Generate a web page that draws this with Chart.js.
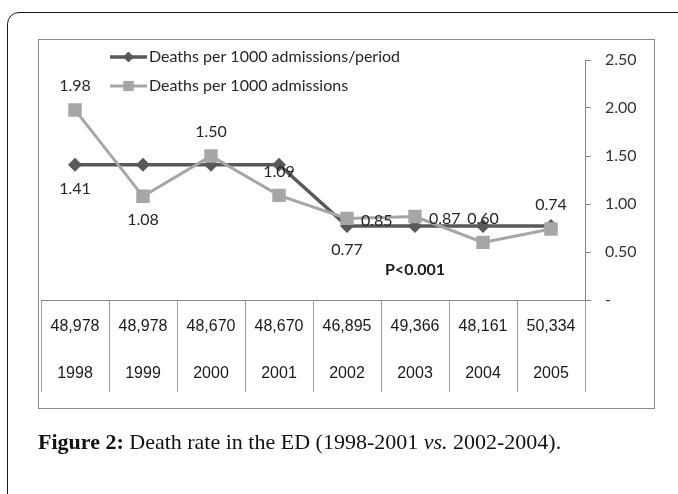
<!DOCTYPE html>
<html><head><meta charset="utf-8">
<script src="https://cdn.jsdelivr.net/npm/chart.js@4.4.1/dist/chart.umd.min.js"></script>
<style>
html,body{margin:0;padding:0;background:#fff;}
#wrap{position:relative;width:678px;height:494px;overflow:hidden;background:#fff;}
#frame{position:absolute;left:7px;top:12px;width:720px;height:600px;border:1.5px solid #1a1a1a;border-radius:12px;box-sizing:border-box;}
#box{position:absolute;left:38px;top:39px;width:617px;height:370px;border:1.5px solid #8c8c8c;box-sizing:border-box;}
#cv{position:absolute;left:0;top:0;}
#cap{position:absolute;left:38px;top:429px;font-family:"Liberation Serif",serif;font-size:22px;color:#111;white-space:nowrap;}
</style></head><body>
<div id="wrap">
<div id="frame"></div>
<div id="box"></div>
<canvas id="cv" width="678" height="494"></canvas>
<div id="cap"><b>Figure 2:</b> Death rate in the ED (1998-2001 <i>vs.</i> 2002-2004).</div>
</div>
<script>
// ---- data ----
const years = ['1998','1999','2000','2001','2002','2003','2004','2005'];
const admissions = ['48,978','48,978','48,670','48,670','46,895','49,366','48,161','50,334'];
const deathsPerPeriod = [1.41,1.41,1.41,1.41,0.77,0.77,0.77,0.77];
const deathsPerYear = [1.98,1.08,1.50,1.09,0.85,0.87,0.60,0.74];
const periodLabelPlacement = ['below',null,null,null,'below',null,null,null];
const yearLabelPlacement = ['above','below','above','above','right','right','above','above'];
const yTicks = [0,0.5,1,1.5,2,2.5];
const pValueText = 'P<0.001';
const pValueAt = {x: '2003', y: 0.31};

const LABEL_FONT = '16px Lato';

const labelsPlugin = {
  id: 'pointLabels',
  afterDatasetsDraw(chart) {
    const ctx = chart.ctx;
    ctx.save();
    ctx.font = LABEL_FONT;
    ctx.fillStyle = '#262626';
    ctx.textBaseline = 'middle';
    chart.data.datasets.forEach((ds, i) => {
      const meta = chart.getDatasetMeta(i);
      meta.data.forEach((pt, j) => {
        const pl = ds.labelPlacement[j];
        if (!pl) return;
        const txt = ds.data[j].toFixed(2);
        let x = pt.x, y = pt.y;
        ctx.textAlign = 'center';
        if (pl === 'above') y -= 24;
        else if (pl === 'below') y += 24;
        else if (pl === 'right') { ctx.textAlign = 'left'; x += 14; y += 2; }
        ctx.fillText(txt, x, y);
      });
    });
    // p-value annotation
    const xs = chart.scales.x, ys = chart.scales.y;
    ctx.font = 'bold 16px Lato';
    ctx.textAlign = 'center';
    ctx.fillStyle = '#1a1a1a';
    ctx.fillText(pValueText, xs.getPixelForValue(years.indexOf(pValueAt.x)), ys.getPixelForValue(pValueAt.y));
    ctx.restore();
  }
};

const legendPlugin = {
  id: 'insideLegend',
  afterDraw(chart) {
    const ctx = chart.ctx;
    const ca = chart.chartArea;
    const order = [1, 0];
    ctx.save();
    order.forEach((di, k) => {
      const ds = chart.data.datasets[di];
      const y = ca.top - 3 + k * 29;
      const x0 = ca.left + 69, x1 = ca.left + 106, xm = (x0 + x1) / 2;
      ctx.strokeStyle = ds.borderColor;
      ctx.lineWidth = ds.borderWidth;
      ctx.beginPath(); ctx.moveTo(x0, y); ctx.lineTo(x1, y); ctx.stroke();
      ctx.fillStyle = ds.pointBackgroundColor;
      ctx.beginPath();
      Chart.helpers.drawPoint(ctx, {pointStyle: ds.pointStyle, radius: ds.pointRadius * 0.75, borderWidth: 0}, xm, y);
      ctx.fill();
      ctx.font = LABEL_FONT;
      ctx.fillStyle = '#262626';
      ctx.textAlign = 'left';
      ctx.textBaseline = 'middle';
      ctx.fillText(ds.label, x1 + 2, y);
    });
    ctx.restore();
  }
};

new Chart(document.getElementById('cv'), {
  type: 'line',
  data: {
    labels: years.map((y, i) => [admissions[i], y]),
    datasets: [
      {
        label: 'Deaths per 1000 admissions',
        data: deathsPerYear,
        labelPlacement: yearLabelPlacement,
        borderColor: '#a6a6a6',
        backgroundColor: '#a6a6a6',
        pointBackgroundColor: '#a6a6a6',
        pointBorderColor: '#a6a6a6',
        borderWidth: 3,
        pointStyle: 'rect',
        pointRadius: 9.5,
        pointBorderWidth: 0,
        tension: 0,
        order: 1
      },
      {
        label: 'Deaths per 1000 admissions/period',
        data: deathsPerPeriod,
        labelPlacement: periodLabelPlacement,
        borderColor: '#595959',
        backgroundColor: '#595959',
        pointBackgroundColor: '#595959',
        pointBorderColor: '#595959',
        borderWidth: 3.5,
        pointStyle: 'rectRot',
        pointRadius: 7,
        pointBorderWidth: 0,
        tension: 0,
        order: 2
      }
    ]
  },
  options: {
    responsive: false,
    animation: false,
    devicePixelRatio: 1,
    layout: {padding: {left: 41, top: 60, right: 33, bottom: 94}},
    plugins: {legend: {display: false}, tooltip: {enabled: false}},
    scales: {
      x: {
        offset: true,
        afterFit: s => { s.height = 100; },
        grid: {display: true, drawOnChartArea: false, drawTicks: true, tickLength: 92, offset: true, color: '#a0a0a0', lineWidth: 1},
        border: {display: true, color: '#868686', width: 1},
        ticks: {
          autoSkip: false, maxRotation: 0, minRotation: 0,
          padding: -88.5,
          color: '#1a1a1a',
          font: {family: 'Liberation Sans', size: 16, lineHeight: '47px'}
        }
      },
      y: {
        position: 'right',
        min: 0, max: 2.5,
        afterFit: s => { s.width = 60; },
        afterBuildTicks: s => { s.ticks = yTicks.map(v => ({value: v})); },
        grid: {drawOnChartArea: false, drawTicks: true, tickLength: 6, color: '#868686'},
        border: {display: true, color: '#868686', width: 1},
        ticks: {
          padding: 14,
          color: '#333',
          font: {family: 'Lato', size: 16},
          callback: v => v === 0 ? '-' : v.toFixed(2)
        }
      }
    }
  },
  plugins: [labelsPlugin, legendPlugin]
});
</script>
</body></html>
